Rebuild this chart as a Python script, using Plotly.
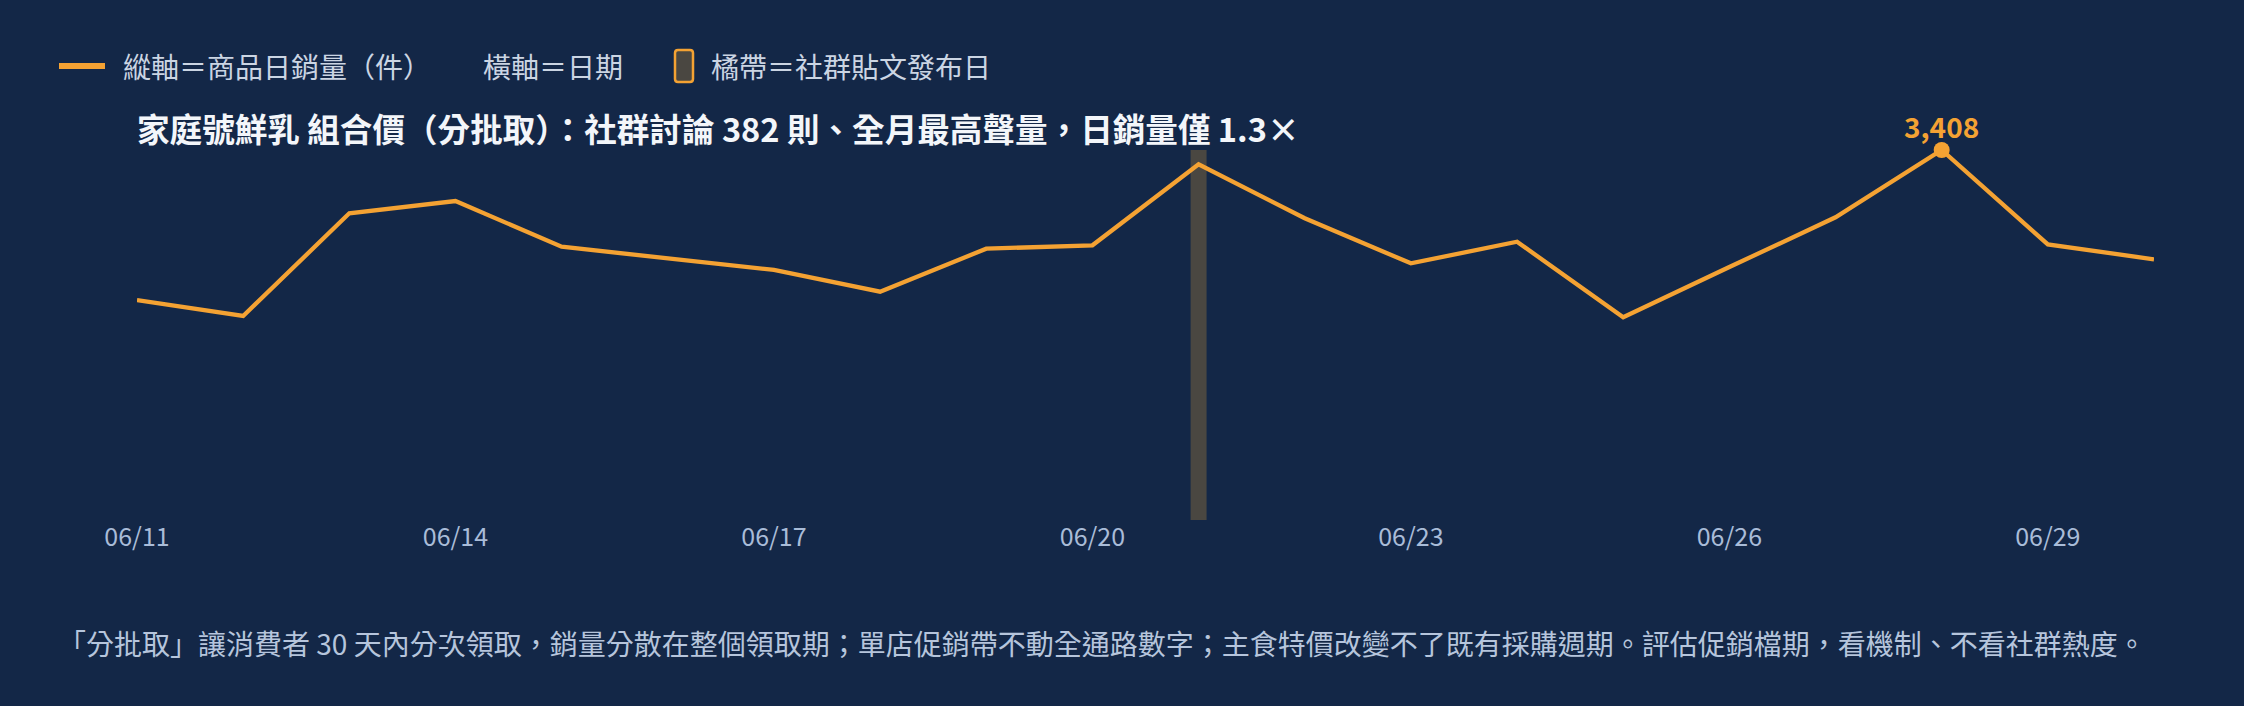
import plotly.graph_objects as go

# daily unit sales for the product, June
dates = ["2025-06-%02d" % d for d in range(11, 31)]
sales = [2026, 1879, 2825, 2938, 2517, 2410, 2303, 2103, 2499, 2530,
         3276, 2779, 2364, 2563, 1867, 2330, 2788, 3408, 2539, 2401]
post_date = "2025-06-21"
tick_dates = dates[::3]
tick_labels = [d[5:].replace("-", "/") for d in tick_dates]

legend_labels = ["縱軸＝商品日銷量（件）", "橫軸＝日期", "橘帶＝社群貼文發布日"]
title_text = "家庭號鮮乳 組合價（分批取）：社群討論 382 則、全月最高聲量，日銷量僅 1.3×"
footer_text = ("「分批取」讓消費者 30 天內分次領取，銷量分散在整個領取期；單店促銷帶不動全通路數字；"
               "主食特價改變不了既有採購週期。評估促銷檔期，看機制、不看社群熱度。")

BG = "#132747"
ORANGE = "#F4A233"
BAND = "#4A4741"
FONT = "Noto Sans CJK TC"

W, H = 2244, 706
L, R, T, B = 137, 90, 150, 186
PW, PH = W - L - R, H - T - B


def px(x):
    return (x - L) / PW


def py(y):
    return (H - B - y) / PH


fig = go.Figure()
fig.add_trace(go.Scatter(x=dates, y=sales, mode="lines",
                         line=dict(color=ORANGE, width=4.3),
                         showlegend=False, hoverinfo="x+y"))

peak = sales.index(max(sales))
fig.add_trace(go.Scatter(x=[dates[peak]], y=[sales[peak]], mode="markers",
                         marker=dict(color=ORANGE, size=16),
                         cliponaxis=False, showlegend=False))

shapes = []
# post day band
shapes.append(dict(type="rect", xref="x", yref="paper", xsizemode="pixel",
                   xanchor=post_date, x0=-8, x1=8, y0=0, y1=1,
                   fillcolor=BAND, line=dict(width=0), layer="below"))

# hand made legend
shapes.append(dict(type="line", xref="paper", yref="paper",
                   x0=px(59), x1=px(105), y0=py(66), y1=py(66),
                   line=dict(color=ORANGE, width=6)))
x0, x1, y0, y1 = px(675), px(693), py(82), py(50)
rx, ry = 3 / PW, 3 / PH
path = (f"M {x0 + rx},{y0} L {x1 - rx},{y0} Q {x1},{y0} {x1},{y0 + ry} "
        f"L {x1},{y1 - ry} Q {x1},{y1} {x1 - rx},{y1} L {x0 + rx},{y1} "
        f"Q {x0},{y1} {x0},{y1 - ry} L {x0},{y0 + ry} Q {x0},{y0} {x0 + rx},{y0} Z")
shapes.append(dict(type="path", xref="paper", yref="paper", path=path,
                   fillcolor=BAND, line=dict(color=ORANGE, width=2.5)))

annotations = []
for label, xpos in zip(legend_labels, [121, 481, 709]):
    annotations.append(dict(xref="paper", yref="paper", x=px(xpos), y=py(66),
                            xanchor="left", yanchor="middle", text=label, showarrow=False,
                            font=dict(family=FONT, size=28, color="#CBD5E3")))

annotations.append(dict(xref="paper", yref="paper", x=px(135), y=py(128),
                        xanchor="left", yanchor="middle", text="<b>" + title_text + "</b>",
                        showarrow=False, font=dict(family=FONT, size=32.6, color="#F3F6FA")))

annotations.append(dict(x=dates[peak], y=sales[peak], yshift=24, yanchor="middle",
                        text="<b>{:,}</b>".format(sales[peak]), showarrow=False,
                        font=dict(family=FONT, size=28, color=ORANGE)))

annotations.append(dict(xref="paper", yref="paper", x=px(56), y=py(643),
                        xanchor="left", yanchor="middle", text=footer_text, showarrow=False,
                        font=dict(family=FONT, size=28, color="#B6C5DC")))

fig.update_layout(
    width=W, height=H,
    margin=dict(l=L, r=R, t=T, b=B),
    paper_bgcolor=BG, plot_bgcolor=BG,
    font=dict(family=FONT, color="#A9BCD8"),
    shapes=shapes, annotations=annotations,
    showlegend=False,
)
fig.update_xaxes(type="date", range=[dates[0], dates[-1]],
                 tickvals=tick_dates, ticktext=tick_labels,
                 tickfont=dict(size=25, color="#A9BCD8"),
                 showgrid=False, zeroline=False, showline=False, ticks="")
fig.update_yaxes(range=[0, max(sales)], visible=False)

fig.write_html("out.html", config={"displayModeBar": False},
               post_script="document.body.style.margin = '0';")
